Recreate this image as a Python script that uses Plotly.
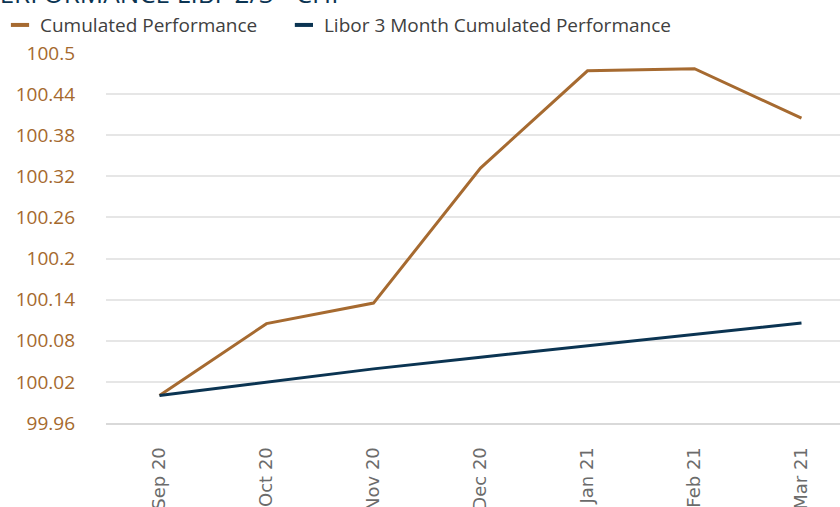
import plotly.graph_objects as go

months = ["Sep 20", "Oct 20", "Nov 20", "Dec 20", "Jan 21", "Feb 21", "Mar 21"]
cumulated = [100.0, 100.105, 100.135, 100.332, 100.474, 100.477, 100.405]
libor = [100.0, 100.020, 100.039, 100.056, 100.073, 100.089, 100.106]
y_ticks = [99.96, 100.02, 100.08, 100.14, 100.2, 100.26, 100.32, 100.38, 100.44, 100.5]
y_ticktext = ["99.96", "100.02", "100.08", "100.14", "100.2", "100.26", "100.32", "100.38", "100.44", "100.5"]
series_names = ["Cumulated Performance", "Libor 3 Month Cumulated Performance"]
title_text = "PERFORMANCE LIBF 2/3 - CHF"

ORANGE = "#A66A30"
NAVY = "#0B3452"

fig = go.Figure()
fig.add_trace(go.Scatter(x=months, y=cumulated, mode="lines", line=dict(color=ORANGE, width=3),
                         showlegend=False, name=series_names[0]))
fig.add_trace(go.Scatter(x=months, y=libor, mode="lines", line=dict(color=NAVY, width=3),
                         showlegend=False, name=series_names[1]))
# legend entries (short dash symbols), one legend each
for nm, col, lg in zip(series_names, [ORANGE, NAVY], ["legend", "legend2"]):
    fig.add_trace(go.Scatter(x=[None], y=[None], mode="markers", name=nm, legend=lg,
                             marker=dict(symbol="line-ew", size=13, color=col,
                                         line=dict(color=col, width=4))))

legend_common = dict(orientation="h", xref="container", yref="container", y=0.988,
                     xanchor="left", yanchor="top", bgcolor="rgba(0,0,0,0)",
                     font=dict(family="Open Sans", size=19, color="#404040"))

fig.update_layout(
    width=840, height=507,
    margin=dict(l=106, r=0, t=53, b=84, autoexpand=False),
    plot_bgcolor="white", paper_bgcolor="white",
    font=dict(family="Open Sans", size=19, color="#404040"),
    showlegend=True,
    legend=dict(x=-0.0108, **legend_common),
    legend2=dict(x=0.338, **legend_common),
    annotations=[dict(text=title_text, xref="paper", yref="paper", x=-0.169, y=1.108,
                      xanchor="left", yanchor="bottom", showarrow=False,
                      font=dict(family="Open Sans", size=26, color=NAVY))],
)
fig.update_xaxes(type="category", range=[-0.5, 6.36], showgrid=False, automargin=False,
                 showline=True, linecolor="#D9D9D9", linewidth=2,
                 tickangle=-90, ticks="", ticklabelstandoff=15,
                 tickfont=dict(family="DejaVu Sans", size=18, color="#6B6B6B"))
fig.update_yaxes(range=[99.96, 100.5], tickvals=y_ticks, ticktext=y_ticktext, automargin=False,
                 showgrid=True, gridcolor="#E6E6E6", gridwidth=2, zeroline=False,
                 showline=False, ticks="", ticklabelstandoff=30,
                 tickfont=dict(family="Open Sans", size=19, color="#A5692D"))

fig.write_html("out.html", config={"displayModeBar": False},
               post_script="document.body.style.margin='0px';")
